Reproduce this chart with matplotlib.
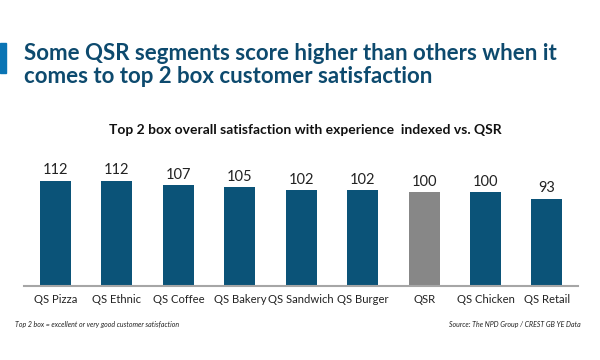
import matplotlib.pyplot as plt
from matplotlib.patches import Rectangle

# data
segments = ['QS Pizza', 'QS Ethnic', 'QS Coffee', 'QS Bakery', 'QS Sandwich',
            'QS Burger', 'QSR', 'QS Chicken', 'QS Retail']
index_vals = [112, 112, 107, 105, 102, 102, 100, 100, 93]

head_txt = 'Some QSR segments score higher than others when it\ncomes to top 2 box customer satisfaction'
chart_ttl = 'Top 2 box overall satisfaction with experience  indexed vs. QSR'
note_txt = 'Top 2 box = excellent or very good customer satisfaction'
src_txt = 'Source: The NPD Group / CREST GB YE Data'

bar_col = '#0b5378'
ref_col = '#878787'
head_col = '#0d4a6e'

plt.rcParams['font.family'] = ['Lato', 'DejaVu Sans']

fig = plt.figure(figsize=(6, 3.6), dpi=100)
fig.patch.set_facecolor('white')

# accent bar and headline
fig.patches.append(Rectangle((0, 1 - 73/360), 6/600, 30/360, transform=fig.transFigure,
                             color='#0a74b4', zorder=0))
fig.text(24/600, 1 - 65/360, head_txt, fontsize=16, fontweight='bold', color=head_col,
         va='center', ha='left', linespacing=1.12)
fig.text(305/600, 1 - 130/360, chart_ttl, fontsize=10, fontweight='bold', color='#111111',
         ha='center', va='center')

ax = fig.add_axes([24/600, 74/360, 554/600, 120*0.94/360])
cols = [ref_col if s == 'QSR' else bar_col for s in segments]
x = range(len(segments))
bars = ax.bar(x, index_vals, width=0.505, color=cols)
for b, v in zip(bars, index_vals):
    ax.text(b.get_x() + b.get_width()/2, v + 3.5, str(v), ha='center', va='bottom',
            fontsize=10.5, color='#222222')

ax.set_xlim(-0.513, 8.505)
ax.set_ylim(0, 120)
ax.set_xticks(list(x))
ax.set_xticklabels(segments, fontsize=8.1, color='#222222')
ax.tick_params(axis='x', length=0, pad=6)
ax.set_yticks([])
for s in ['top', 'right', 'left']:
    ax.spines[s].set_visible(False)
ax.spines['bottom'].set_color('#a6a6a6')
ax.spines['bottom'].set_linewidth(1.5)

fig.text(15/600, 1 - 324/360, note_txt, fontsize=5, style='italic', color='#222222',
         ha='left', va='center')
fig.text(581/600, 1 - 324/360, src_txt, fontsize=5, style='italic', color='#222222',
         ha='right', va='center')

fig.savefig('out.png', dpi=100, facecolor='w')
